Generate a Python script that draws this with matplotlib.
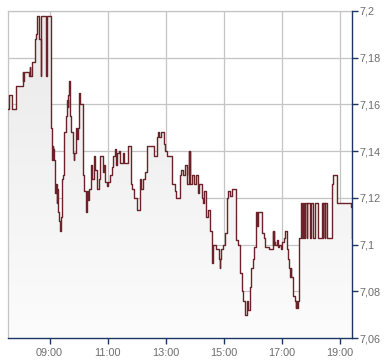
import numpy as np
import matplotlib
matplotlib.use("Agg")
import matplotlib.pyplot as plt

# intraday quotes, step data (price holds until the next time)
times = [
    "07:34", "07:36", "07:43", "07:51", "08:05", "08:06", "08:07", "08:18", "08:19", "08:20",
    "08:24", "08:30", "08:32", "08:34", "08:38", "08:42", "08:43", "08:52", "08:54", "09:02",
    "09:05", "09:06", "09:07", "09:08", "09:10", "09:11", "09:13", "09:15", "09:16", "09:18",
    "09:20", "09:22", "09:23", "09:25", "09:28", "09:30", "09:34", "09:35", "09:37", "09:39",
    "09:40", "09:42", "09:44", "09:48", "09:50", "09:51", "09:55", "09:56", "09:58", "10:01",
    "10:03", "10:08", "10:09", "10:11", "10:16", "10:18", "10:19", "10:21", "10:26", "10:28",
    "10:32", "10:34", "10:38", "10:42", "10:45", "10:50", "10:53", "10:55", "10:59", "11:01",
    "11:05", "11:08", "11:12", "11:16", "11:18", "11:20", "11:23", "11:26", "11:32", "11:34",
    "11:41", "11:48", "11:50", "11:55", "12:01", "12:06", "12:09", "12:12", "12:18", "12:22",
    "12:35", "12:41", "12:44", "12:46", "12:51", "12:56", "12:59", "13:03", "13:12", "13:20",
    "13:22", "13:29", "13:32", "13:36", "13:39", "13:43", "13:48", "13:49", "13:50", "13:51",
    "13:55", "13:58", "14:02", "14:07", "14:09", "14:14", "14:17", "14:20", "14:24", "14:28",
    "14:31", "14:35", "14:36", "14:37", "14:43", "14:50", "14:52", "14:53", "14:55", "14:59",
    "15:02", "15:06", "15:09", "15:12", "15:16", "15:26", "15:30", "15:33", "15:37", "15:40",
    "15:43", "15:47", "15:50", "15:54", "15:57", "16:01", "16:03", "16:06", "16:09", "16:11",
    "16:20", "16:23", "16:25", "16:34", "16:41", "16:42", "16:43", "16:44", "16:46", "16:49",
    "16:52", "16:54", "16:59", "17:01", "17:04", "17:07", "17:10", "17:13", "17:15", "17:17",
    "17:18", "17:19", "17:23", "17:27", "17:29", "17:30", "17:32", "17:34", "17:36", "17:39",
    "17:42", "17:44", "17:46", "17:48", "17:51", "17:53", "17:58", "18:00", "18:05", "18:08",
    "18:15", "18:22", "18:25", "18:26", "18:29", "18:30", "18:33", "18:43", "18:46", "18:53",
    "19:23", "19:24", "19:25",
]
prices = [
    7.158, 7.164, 7.158, 7.168, 7.174, 7.170, 7.174, 7.172, 7.176, 7.172,
    7.178, 7.188, 7.190, 7.198, 7.188, 7.172, 7.198, 7.172, 7.198, 7.150,
    7.136, 7.142, 7.136, 7.141, 7.136, 7.122, 7.126, 7.118, 7.124, 7.114,
    7.110, 7.106, 7.112, 7.128, 7.130, 7.148, 7.155, 7.162, 7.159, 7.164,
    7.170, 7.155, 7.148, 7.139, 7.136, 7.139, 7.150, 7.145, 7.150, 7.165,
    7.160, 7.146, 7.130, 7.123, 7.114, 7.123, 7.119, 7.124, 7.134, 7.128,
    7.138, 7.132, 7.124, 7.128, 7.138, 7.131, 7.134, 7.127, 7.125, 7.127,
    7.130, 7.133, 7.138, 7.141, 7.134, 7.139, 7.140, 7.135, 7.139, 7.135,
    7.142, 7.126, 7.124, 7.120, 7.115, 7.128, 7.124, 7.128, 7.131, 7.142,
    7.138, 7.146, 7.148, 7.146, 7.148, 7.143, 7.140, 7.138, 7.126, 7.123,
    7.120, 7.130, 7.132, 7.130, 7.134, 7.126, 7.140, 7.130, 7.140, 7.126,
    7.130, 7.126, 7.130, 7.122, 7.126, 7.120, 7.118, 7.123, 7.112, 7.115,
    7.106, 7.100, 7.092, 7.100, 7.098, 7.094, 7.090, 7.094, 7.098, 7.100,
    7.105, 7.120, 7.123, 7.121, 7.124, 7.102, 7.100, 7.088, 7.080, 7.076,
    7.070, 7.076, 7.072, 7.082, 7.090, 7.094, 7.099, 7.114, 7.108, 7.114,
    7.105, 7.103, 7.099, 7.098, 7.106, 7.100, 7.106, 7.101, 7.100, 7.102,
    7.099, 7.100, 7.098, 7.101, 7.103, 7.106, 7.098, 7.094, 7.090, 7.086,
    7.090, 7.086, 7.078, 7.076, 7.073, 7.076, 7.073, 7.076, 7.103, 7.118,
    7.103, 7.118, 7.103, 7.118, 7.103, 7.118, 7.103, 7.118, 7.103, 7.118,
    7.103, 7.118, 7.103, 7.118, 7.103, 7.118, 7.103, 7.126, 7.130, 7.118,
    7.116, 7.103, 7.103,
]

x_ticks = ["09:00", "11:00", "13:00", "15:00", "17:00", "19:00"]
y_ticks = [7.06, 7.08, 7.10, 7.12, 7.14, 7.16, 7.18, 7.20]
y_labels = ["7,06", "7,08", "7,1", "7,12", "7,14", "7,16", "7,18", "7,2"]


def to_min(s):
    h, m = s.split(":")
    return int(h) * 60 + int(m)


t = np.array([to_min(s) for s in times], dtype=float)
p = np.array(prices)

plt.rcParams["font.family"] = ["Liberation Sans", "DejaVu Sans"]

fig = plt.figure(figsize=(3.9, 3.64), dpi=100)
ax = fig.add_axes([8 / 390, 1 - 338 / 364, 344 / 390, 327 / 364])

ymin, ymax = 7.06, 7.20
ax.set_xlim(t[0], t[-1])
ax.set_ylim(ymin, ymax)

# gradient fill under the line
poly = ax.fill_between(t, p, ymin, step="post", color="none", lw=0)
grad = np.linspace(0, 1, 256).reshape(-1, 1)
im = ax.imshow(grad, extent=[t[0], t[-1], ymin, ymax], origin="lower",
               aspect="auto", cmap=matplotlib.colors.LinearSegmentedColormap.from_list(
                   "g", ["#fcfcfc", "#e9e9e9"]), zorder=1)
im.set_clip_path(poly.get_paths()[0], transform=ax.transData)

ax.step(t, p, where="post", color="#6b2228", lw=1.0, zorder=3)

navy = "#1d3566"
ax.set_xticks([to_min(s) for s in x_ticks])
ax.set_xticklabels(x_ticks)
ax.set_yticks(y_ticks)
ax.set_yticklabels(y_labels)
ax.yaxis.tick_right()
ax.tick_params(axis="both", colors=navy, length=4, width=1, labelsize=7.8,
               labelcolor="#6d6d6d")
ax.tick_params(axis="y", pad=1.5)
ax.tick_params(axis="x", pad=3)
ax.grid(True, color="#c4c4c4", lw=0.9, zorder=0)
ax.set_axisbelow(True)

for side in ("top", "left"):
    ax.spines[side].set_color("#c4c4c4")
    ax.spines[side].set_linewidth(0.9)
for side in ("bottom", "right"):
    ax.spines[side].set_color(navy)
    ax.spines[side].set_linewidth(1.0)
    ax.spines[side].set_zorder(4)

fig.savefig("out.png", dpi=100, facecolor="white")
